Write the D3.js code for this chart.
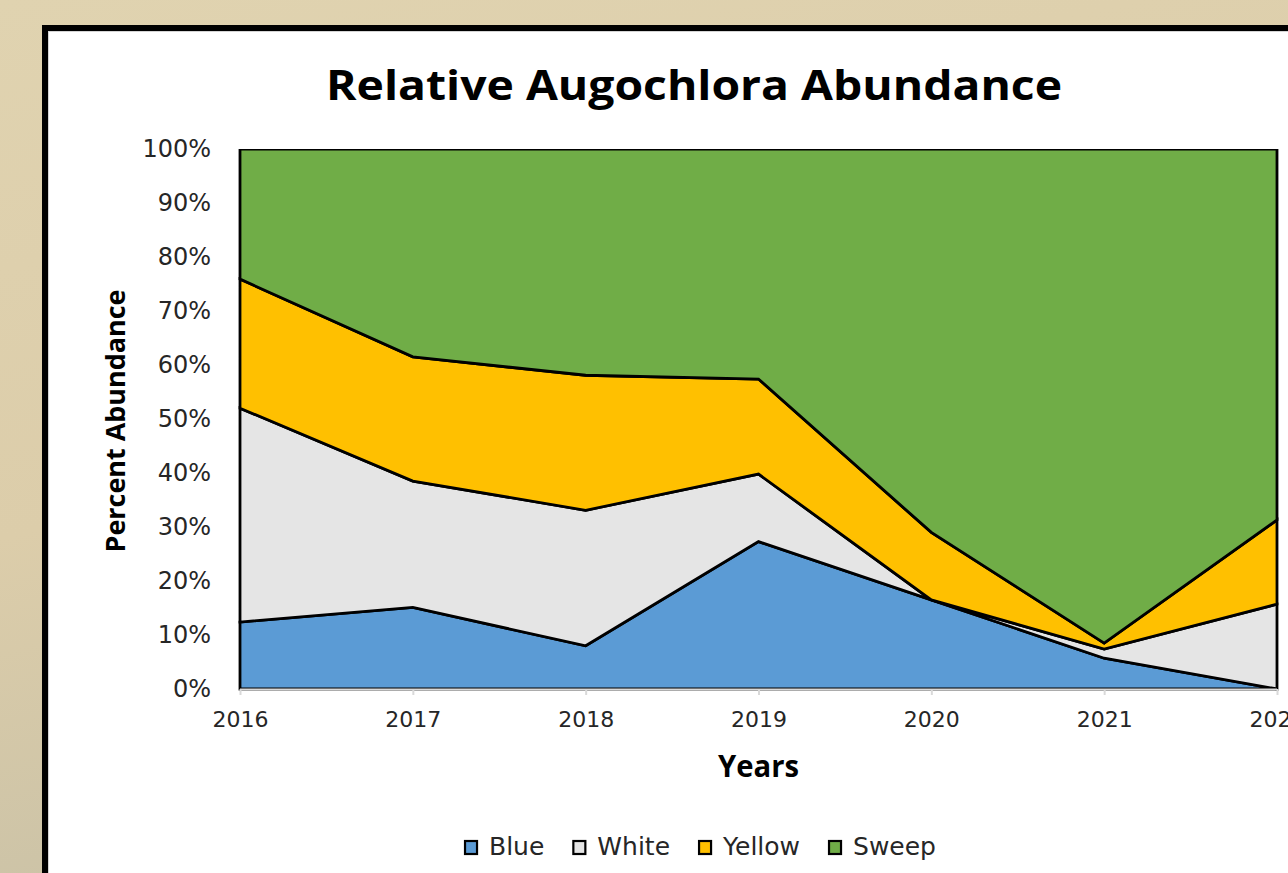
<!DOCTYPE html>
<html>
<head>
<meta charset="utf-8">
<script src="https://cdn.jsdelivr.net/npm/d3@7"></script>
<style>
  html, body { margin: 0; padding: 0; overflow: hidden; }
  svg { display: block; }
</style>
</head>
<body>
<svg id="chart" width="1288" height="873"></svg>
<script>
// Survey years and the share (%) of Augochlora collected by each method
const years = ["2016", "2017", "2018", "2019", "2020", "2021", "2022"];
const blue   = [12.4, 15.1,  8.0, 27.3, 16.5,  5.7,  0.0];
const white  = [39.6, 23.4, 25.1, 12.5,  0.0,  1.7, 15.7];
const yellow = [23.9, 23.0, 25.0, 17.6, 12.5,  1.1, 15.6];
const sweep  = [24.1, 38.5, 41.9, 42.6, 71.0, 91.5, 68.7];
const seriesNames = ["Blue", "White", "Yellow", "Sweep"];
const seriesColors = ["#5b9bd5", "#e5e5e5", "#ffc000", "#70ad47"];
const yTicks = [0, 10, 20, 30, 40, 50, 60, 70, 80, 90, 100];

const svg = d3.select("#chart");
const W = 1288, H = 873;

// backdrop
const defs = svg.append("defs");
const bg = defs.append("linearGradient").attr("id", "bg").attr("x1", 0).attr("y1", 0).attr("x2", 0.35).attr("y2", 1);
bg.append("stop").attr("offset", "0%").attr("stop-color", "#e0d3b0");
bg.append("stop").attr("offset", "55%").attr("stop-color", "#dccdaa");
bg.append("stop").attr("offset", "100%").attr("stop-color", "#c9c1a6");
svg.append("rect").attr("width", W).attr("height", H).attr("fill", "url(#bg)");

// framed white panel
svg.append("rect").attr("x", 45).attr("y", 28).attr("width", 1400).attr("height", 1000)
  .attr("fill", "#ffffff").attr("stroke", "#000").attr("stroke-width", 6);
svg.append("rect").attr("x", 48.5).attr("y", 31.5).attr("width", 1400).attr("height", 1000)
  .attr("fill", "none").attr("stroke", "#d4d4d4").attr("stroke-width", 1);

const plot = { left: 240, right: 1277, top: 149, bottom: 689 };
const x = d3.scalePoint().domain(years).range([plot.left, plot.right]);
const y = d3.scaleLinear().domain([0, 100]).range([plot.bottom, plot.top]);

// stacked table
const rows = years.map((yr, i) => ({ year: yr, Blue: blue[i], White: white[i], Yellow: yellow[i], Sweep: sweep[i] }));
const stacked = d3.stack().keys(seriesNames)(rows);

defs.append("clipPath").attr("id", "plotClip")
  .append("rect").attr("x", plot.left - 10).attr("y", plot.top)
  .attr("width", plot.right - plot.left + 20).attr("height", plot.bottom - plot.top + 10);

const area = d3.area()
  .x(d => x(d.data.year))
  .y0(d => y(d[0]))
  .y1(d => y(d[1]));

const g = svg.append("g").attr("clip-path", "url(#plotClip)");
g.selectAll("path.layer").data(stacked).join("path")
  .attr("class", "layer")
  .attr("d", area)
  .attr("fill", (d, i) => seriesColors[i])
  .attr("stroke", "#000")
  .attr("stroke-width", 2.8)
  .attr("stroke-linejoin", "miter");

// x axis (light gray baseline and ticks)
const xAxis = svg.append("g").attr("transform", `translate(0,${plot.bottom})`)
  .call(d3.axisBottom(x).tickSize(6).tickPadding(16));
xAxis.select(".domain").attr("stroke", "#d9d9d9").attr("stroke-width", 2)
  .attr("d", `M${plot.left},0.5H${plot.right}`);
xAxis.selectAll(".tick line").attr("stroke", "#d9d9d9").attr("stroke-width", 2);
xAxis.selectAll(".tick text")
  .attr("font-family", "DejaVu Sans").attr("font-size", 22).attr("fill", "#262626");

// y axis labels only
const yAxis = svg.append("g").attr("transform", `translate(${plot.left},0)`)
  .call(d3.axisLeft(y).tickValues(yTicks).tickFormat(d => d + "%").tickSize(0).tickPadding(29));
yAxis.select(".domain").remove();
yAxis.selectAll(".tick text")
  .attr("font-family", "DejaVu Sans").attr("font-size", 24).attr("fill", "#262626");

// titles
svg.append("text").attr("x", 694).attr("y", 100)
  .attr("text-anchor", "middle").attr("font-family", "Open Sans").attr("font-weight", 700)
  .attr("font-size", 42).attr("fill", "#000")
  .attr("textLength", 736).attr("lengthAdjust", "spacingAndGlyphs")
  .text("Relative Augochlora Abundance");

svg.append("text").attr("transform", `translate(125,${(plot.top + plot.bottom) / 2 + 2}) rotate(-90)`)
  .attr("text-anchor", "middle").attr("font-family", "Open Sans").attr("font-weight", 700)
  .attr("font-size", 27).attr("fill", "#000")
  .attr("textLength", 263).attr("lengthAdjust", "spacingAndGlyphs")
  .text("Percent Abundance");

svg.append("text").attr("x", (plot.left + plot.right) / 2).attr("y", 777)
  .attr("text-anchor", "middle").attr("font-family", "Open Sans").attr("font-weight", 700)
  .attr("font-size", 30).attr("fill", "#000")
  .attr("textLength", 81).attr("lengthAdjust", "spacingAndGlyphs")
  .text("Years");

// legend, laid out left to right and centred
const legend = svg.append("g");
const items = legend.selectAll("g.item").data(seriesNames).join("g").attr("class", "item");
items.append("rect").attr("x", 1).attr("width", 12).attr("height", 13).attr("y", -14)
  .attr("fill", (d, i) => seriesColors[i]).attr("stroke", "#000").attr("stroke-width", 2.2);
items.append("text").attr("x", 25).attr("y", 0)
  .attr("font-family", "DejaVu Sans").attr("font-size", 25).attr("fill", "#262626")
  .text(d => d);
let cursor = 0;
items.each(function () {
  const it = d3.select(this);
  it.attr("transform", `translate(${cursor},0)`);
  cursor += 25 + it.select("text").node().getComputedTextLength() + 28;
});
const legendWidth = cursor - 28;
legend.attr("transform", `translate(${700 - legendWidth / 2},855)`);
</script>
</body>
</html>
